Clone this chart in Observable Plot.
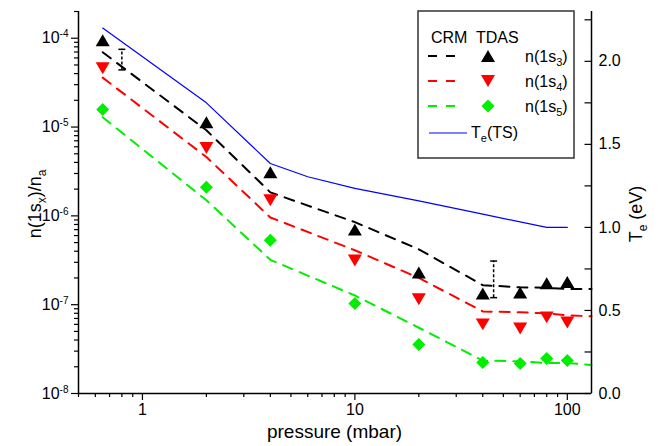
<!DOCTYPE html>
<html><head><meta charset="utf-8">
<script src="https://cdn.jsdelivr.net/npm/d3@7"></script>
<script src="https://cdn.jsdelivr.net/npm/@observablehq/plot@0.6"></script>
<style>
body{margin:0;background:#fff;}
#chart{width:662px;height:446px;}
#chart svg{font-family:"Liberation Sans",Arial,sans-serif;}
</style></head><body><div id="chart"></div>
<script>
// ---- data ----
const pressure = [0.65, 2, 4, 10, 20, 40, 60, 80, 100];
const tdasS3 = [9.5e-5, 1.13e-5, 3.1e-6, 7.0e-7, 2.3e-7, 1.34e-7, 1.37e-7, 1.74e-7, 1.8e-7];
const tdasS4 = [4.6e-5, 5.8e-6, 1.5e-6, 3.15e-7, 1.15e-7, 6.0e-8, 5.4e-8, 7.2e-8, 6.3e-8];
const tdasS5 = [1.58e-5, 2.1e-6, 5.3e-7, 1.03e-7, 3.56e-8, 2.24e-8, 2.17e-8, 2.48e-8, 2.35e-8];

const crmPressure = [0.65, 2, 4, 10, 20, 40, 60, 80, 100, 130];
const crmS3 = [6.95e-5, 9.2e-6, 1.84e-6, 8.5e-7, 4.2e-7, 1.66e-7, 1.57e-7, 1.55e-7, 1.5e-7, 1.5e-7];
const crmS4 = [3.6e-5, 4.6e-6, 9.6e-7, 4.1e-7, 2.0e-7, 8.4e-8, 8.2e-8, 8.0e-8, 7.6e-8, 7.4e-8];
const crmS5 = [1.29e-5, 1.5e-6, 3.2e-7, 1.27e-7, 5.5e-8, 2.35e-8, 2.3e-8, 2.2e-8, 2.2e-8, 2.1e-8];

const tePressure = [0.65, 2, 4, 6, 10, 20, 40, 80, 100];
const teValues = [2.2, 1.75, 1.385, 1.305, 1.235, 1.16, 1.08, 1.0, 1.0];

const errPressure = [0.8, 45];
const errLow = [4.4e-5, 1.2e-7];
const errHigh = [7.5e-5, 3.1e-7];

// ---- axes ----
const xDomain = [0.5, 130];
const yDomain = [1e-8, 2e-4];
const teDomain = [0, 2.3];
const xMajor = [1, 10, 100];
const xMajorLabels = ["1", "10", "100"];
const yMajor = [1e-8, 1e-7, 1e-6, 1e-5, 1e-4];
const yExponents = ["-8", "-7", "-6", "-5", "-4"];
const teMajor = [0, 0.5, 1, 1.5, 2];
const teMajorLabels = ["0.0", "0.5", "1.0", "1.5", "2.0"];
const teMinor = [0.25, 0.75, 1.25, 1.75, 2.25];

const xMinor = [];
for (const dec of [0.1, 1, 10]) for (let m = 2; m <= 9; m++) { const v = +(m * dec).toPrecision(3); if (v >= xDomain[0] && v <= xDomain[1] && !xMajor.includes(v)) xMinor.push(v); }
const yMinor = [];
for (const dec of [1e-8, 1e-7, 1e-6, 1e-5, 1e-4]) for (let m = 2; m <= 9; m++) { const v = m * dec; if (v <= yDomain[1]) yMinor.push(v); }

// map Te (right axis, linear) onto the left log scale
const L0 = Math.log10(yDomain[0]), L1 = Math.log10(yDomain[1]);
const teToY = t => Math.pow(10, L0 + (t - teDomain[0]) / (teDomain[1] - teDomain[0]) * (L1 - L0));

// ---- tables ----
const tdas = pressure.flatMap((p, i) => [
  {p, v: tdasS3[i], s: "s3"}, {p, v: tdasS4[i], s: "s4"}, {p, v: tdasS5[i], s: "s5"}]);
const crm = crmPressure.flatMap((p, i) => [
  {p, v: crmS3[i], s: "s3"}, {p, v: crmS4[i], s: "s4"}, {p, v: crmS5[i], s: "s5"}]);
const te = tePressure.map((p, i) => ({p, y: teToY(teValues[i])}));
const err = errPressure.map((p, i) => ({p, lo: errLow[i], hi: errHigh[i]}));
const teTickTable = teMajor.map((t, i) => ({y: teToY(t), label: teMajorLabels[i]}));

const colors = {s3: "#000000", s4: "#ff0000", s5: "#00ee00"};

// ---- symbols ----
const triUp = {draw(c, size) { const a = Math.sqrt(size / Math.PI), hw = 1.35 * a, hh = 1.15 * a;
  c.moveTo(0, -hh); c.lineTo(hw, hh); c.lineTo(-hw, hh); c.closePath(); }};
const triDown = {draw(c, size) { const a = Math.sqrt(size / Math.PI), hw = 1.35 * a, hh = 1.15 * a;
  c.moveTo(0, hh); c.lineTo(hw, -hh); c.lineTo(-hw, -hh); c.closePath(); }};
const diamond = {draw(c, size) { const a = Math.sqrt(size / Math.PI), d = 1.3 * a;
  c.moveTo(0, -d); c.lineTo(d, 0); c.lineTo(0, d); c.lineTo(-d, 0); c.closePath(); }};
const tickLeft = {draw(c) { c.moveTo(0, 0); c.lineTo(-7, 0); }};
const cap = {draw(c) { c.moveTo(-3.5, 0); c.lineTo(3.5, 0); }};
const symFor = {s3: triUp, s4: triDown, s5: diamond};

const plot = Plot.plot({
  width: 662, height: 446,
  marginLeft: 78, marginRight: 71, marginTop: 11, marginBottom: 53,
  style: {fontSize: "16px", fontFamily: "'Liberation Sans', Arial, sans-serif", color: "black", background: "white"},
  x: {type: "log", domain: xDomain},
  y: {type: "log", domain: yDomain},
  marks: [
    // CRM dashed lines
    ...["s3", "s4", "s5"].map(s => Plot.line(crm.filter(d => d.s === s), {x: "p", y: "v", stroke: colors[s], strokeWidth: 2, strokeDasharray: "10,8"})),
    // Te line
    Plot.line(te, {x: "p", y: "y", stroke: "#0000ff", strokeWidth: 1.2}),
    // error bars
    Plot.ruleX(err, {x: "p", y1: "lo", y2: "hi", stroke: "black", strokeWidth: 1.5, strokeDasharray: "3,2"}),
    Plot.dot(err, {x: "p", y: "lo", symbol: cap, stroke: "black", fill: "none", strokeWidth: 1.5}),
    Plot.dot(err, {x: "p", y: "hi", symbol: cap, stroke: "black", fill: "none", strokeWidth: 1.5}),
    // TDAS markers
    ...["s3", "s4", "s5"].map(s => Plot.dot(tdas.filter(d => d.s === s), {x: "p", y: "v", symbol: symFor[s], fill: colors[s], r: s === "s5" ? 5 : 5.2})),
    // axis lines
    Plot.ruleX([xDomain[0]], {stroke: "black", strokeWidth: 1.5}),
    Plot.ruleX([xDomain[1]], {stroke: "black", strokeWidth: 1.5}),
    Plot.ruleY([yDomain[0]], {stroke: "black", strokeWidth: 1.5}),
    // bottom axis
    Plot.axisX({ticks: xMajor, tickFormat: d => xMajorLabels[d3.minIndex(xMajor, v => Math.abs(Math.log10(v / d)))], tickSize: 7, tickPadding: 3, label: null, strokeWidth: 1.2}),
    Plot.axisX({ticks: xMinor, tickFormat: () => "", tickSize: 4, label: null, strokeWidth: 1.2}),
    // left axis
    Plot.axisY({ticks: yMajor, tickFormat: d => "10^" + yExponents[d3.minIndex(yMajor, v => Math.abs(Math.log10(v / d)))], tickSize: 7, tickPadding: 3, label: null, strokeWidth: 1.2}),
    Plot.axisY({ticks: yMinor, tickFormat: () => "", tickSize: 4, label: null, strokeWidth: 1.2}),
    // right axis (Te): inward ticks and labels
    Plot.dot([...teMajor, ...teMinor], {y: d => teToY(d), frameAnchor: "right", symbol: tickLeft, stroke: "black", fill: "none", strokeWidth: 1.2}),
    Plot.text(teTickTable, {y: "y", text: "label", frameAnchor: "right", dx: 7, textAnchor: "start", fill: "black", fontSize: 16})
  ]
});
document.getElementById("chart").appendChild(plot);

const svg = d3.select(plot);
// superscript exponents on left tick labels
svg.selectAll("text").each(function () {
  const m = (this.textContent || "").match(/^10\^(-?\d+)$/);
  if (!m) return;
  const t = d3.select(this);
  t.text("10");
  t.append("tspan").attr("dy", "-0.6em").attr("font-size", "10px").text(m[1]);
});

const font = "'Liberation Sans', Arial, sans-serif";
// axis titles
svg.append("text").attr("x", 334.5).attr("y", 438).attr("text-anchor", "middle")
  .attr("font-size", 19).attr("font-family", font).text("pressure (mbar)");
const yl = svg.append("text").attr("transform", "translate(41,204) rotate(-90)").attr("text-anchor", "middle")
  .attr("font-size", 18).attr("font-family", font);
yl.append("tspan").text("n(1s");
yl.append("tspan").attr("dy", 5).attr("font-size", 12).text("x");
yl.append("tspan").attr("dy", -5).text(")/n");
yl.append("tspan").attr("dy", 5).attr("font-size", 12).text("a");
const tl = svg.append("text").attr("transform", "translate(642,214) rotate(-90)").attr("text-anchor", "middle")
  .attr("font-size", 18).attr("font-family", font);
tl.append("tspan").text("T");
tl.append("tspan").attr("dy", 5).attr("font-size", 12).text("e");
tl.append("tspan").attr("dy", -5).text(" (eV)");

// legend
const legendSeries = ["s3", "s4", "s5"];
const legendSubs = ["3", "4", "5"];
const lg = svg.append("g").attr("font-family", font).attr("font-size", 16).attr("text-anchor", "start");
lg.append("rect").attr("x", 418).attr("y", 11).attr("width", 156).attr("height", 147)
  .attr("fill", "white").attr("stroke", "#333").attr("stroke-width", 1.5);
lg.append("text").attr("x", 431).attr("y", 43).text("CRM");
lg.append("text").attr("x", 476).attr("y", 43).text("TDAS");
legendSeries.forEach((s, i) => {
  const y = 56 + i * 25;
  lg.append("line").attr("x1", 428).attr("x2", 455).attr("y1", y).attr("y2", y)
    .attr("stroke", colors[s]).attr("stroke-width", 2).attr("stroke-dasharray", "9,9");
  lg.append("path").attr("transform", `translate(488,${y})`)
    .attr("d", d3.symbol(symFor[s], Math.PI * (s === "s5" ? 25 : 27)) ()).attr("fill", colors[s]);
  const t = lg.append("text").attr("x", 525).attr("y", y + 6);
  t.append("tspan").text("n(1s");
  t.append("tspan").attr("dy", 4).attr("font-size", 11).text(legendSubs[i]);
  t.append("tspan").attr("dy", -4).text(")");
});
lg.append("line").attr("x1", 429).attr("x2", 467).attr("y1", 133).attr("y2", 133)
  .attr("stroke", "#0000ff").attr("stroke-width", 1.2);
const tt = lg.append("text").attr("x", 471).attr("y", 138);
tt.append("tspan").text("T");
tt.append("tspan").attr("dy", 4).attr("font-size", 11).text("e");
tt.append("tspan").attr("dy", -4).text("(TS)");
</script></body></html>
